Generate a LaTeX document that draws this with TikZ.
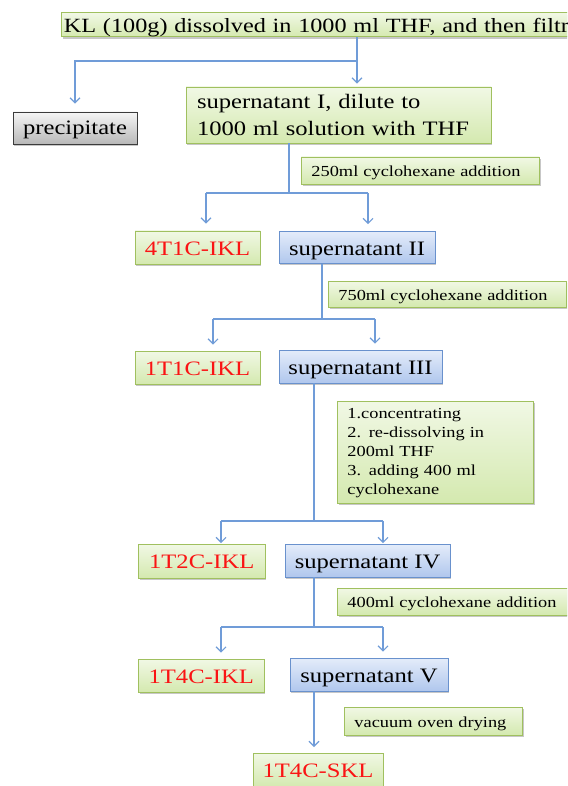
\documentclass[tikz,border=0pt]{standalone}
\usepackage{fontspec}
\setmainfont{Liberation Serif}[FakeStretch=1.2]
\usetikzlibrary{arrows.meta,shadows,calc}
\definecolor{gtop}{RGB}{241,248,229}
\definecolor{gbot}{RGB}{212,233,175}
\definecolor{gline}{RGB}{160,192,95}
\definecolor{btop}{RGB}{228,236,250}
\definecolor{bbot}{RGB}{176,199,237}
\definecolor{bline}{RGB}{105,145,205}
\definecolor{ktop}{RGB}{246,246,246}
\definecolor{kbot}{RGB}{184,184,184}
\definecolor{kline}{RGB}{60,60,60}
\definecolor{arrc}{RGB}{112,156,216}
\definecolor{redt}{RGB}{250,20,20}
\tikzset{
  boxbase/.style={rectangle, line width=0.9pt, inner ysep=0pt,
    drop shadow={shadow xshift=1.2pt, shadow yshift=-1.6pt, fill=black, opacity=0.22}},
  gbox/.style={boxbase, draw=gline, top color=gtop, bottom color=gbot},
  bbox/.style={boxbase, draw=bline, top color=btop, bottom color=bbot},
  kbox/.style={boxbase, draw=kline, top color=ktop, bottom color=kbot},
  big/.style={font=\fontsize{20.5}{27}\selectfont},
  oneline/.style={text height=15pt, text depth=0pt},
  small/.style={font=\fontsize{15.3}{19}\selectfont},
  redlab/.style={gbox, big, oneline, text=redt},
  note/.style={gbox, small, align=left, anchor=west, inner xsep=10pt},
  smallone/.style={text height=12pt, text depth=0pt},
  conn/.style={draw=arrc, line width=1.3pt},
  arr/.style={conn, -{Straight Barb[length=5pt,width=10pt,line width=1.1pt]}}
}
\begin{document}
\begin{tikzpicture}[x=1pt,y=-1pt]
\useasboundingbox (0,0) rectangle (567,786);
\clip (0,0) rectangle (567,786);
\fill[white] (0,0) rectangle (567,786);

% nodes
\node[gbox, font=\fontsize{20.2}{24}\selectfont, text height=15.5pt, text depth=0pt, anchor=north west, minimum height=24pt, text width=700pt, align=left, inner xsep=2.5pt] (top) at (61,12.5) {KL (100g) dissolved in 1000 ml THF, and then filtration};
\node[kbox, big, text height=14pt, text depth=0pt, minimum width=124pt, minimum height=32pt] (prec) at (75,128) {precipitate};
\node[gbox, big, minimum width=305pt, minimum height=56pt, text width=283pt, align=left, inner xsep=11pt] (sup1) at (338.5,115) {supernatant I, dilute to\\1000 ml solution with THF};
\node[note, smallone, minimum height=27pt, text width=218pt] (a250) at (301,170.5) {250ml cyclohexane addition};
\node[redlab, minimum width=125pt, minimum height=33pt] (k4t1) at (197.5,247.5) {4T1C-IKL};
\node[bbox, big, oneline, minimum width=156pt, minimum height=32pt] (s2) at (357,247.5) {supernatant II};
\node[note, smallone, minimum height=26pt, text width=218pt] (a750) at (328,294) {750ml cyclohexane addition};
\node[redlab, minimum width=125pt, minimum height=33pt] (k1t1) at (197.5,367.5) {1T1C-IKL};
\node[bbox, big, oneline, minimum width=163pt, minimum height=33pt] (s3) at (360.5,366.5) {supernatant III};
\node[note, minimum height=102pt, text width=176pt, text height=12pt] (multi) at (337,452) {1.concentrating\\2. re-dissolving in\\200ml THF\\3. adding 400 ml\\cyclohexane};
\node[redlab, minimum width=126.5pt, minimum height=34pt] (k1t2) at (201.75,561) {1T2C-IKL};
\node[bbox, big, oneline, minimum width=165pt, minimum height=33pt] (s4) at (367.5,560.5) {supernatant IV};
\node[note, smallone, minimum height=27pt, text width=216pt] (a400) at (337,601.5) {400ml cyclohexane addition};
\node[redlab, minimum width=125.5pt, minimum height=33pt] (k1t4) at (201.25,675.5) {1T4C-IKL};
\node[bbox, big, oneline, minimum width=158pt, minimum height=33pt] (s5) at (369,674.5) {supernatant V};
\node[note, smallone, minimum height=28pt, text width=158pt] (vac) at (344,721) {vacuum oven drying};
\node[redlab, minimum width=130pt, minimum height=34pt] (skl) at (318,770) {1T4C-SKL};

% junction coordinates
\coordinate (j1) at (357,61);
\coordinate (c2) at (289,193); \coordinate (l2) at (206,193); \coordinate (r2) at (368,193);
\coordinate (c3) at (322,319); \coordinate (l3) at (213,319); \coordinate (r3) at (375,319);
\coordinate (c4) at (314,521); \coordinate (l4) at (221,521); \coordinate (r4) at (383,521);
\coordinate (c5) at (314,627); \coordinate (l5) at (221,627); \coordinate (r5) at (383,627);
\coordinate (c6) at (314,747);

% connectors
\draw[arr, shorten >=3pt] (top.south -| j1) -- (j1 |- sup1.north);
\draw[arr, shorten >=8pt] (j1) -| (prec.north);

\draw[conn] (sup1.south -| c2) -- (c2);
\draw[conn] (l2) -- (r2);
\draw[arr, shorten >=7pt] (l2) -- (l2 |- k4t1.north);
\draw[arr, shorten >=7pt] (r2) -- (r2 |- s2.north);

\draw[conn] (s2.south -| c3) -- (c3);
\draw[conn] (l3) -- (r3);
\draw[arr, shorten >=6pt] (l3) -- (l3 |- k1t1.north);
\draw[arr, shorten >=6pt] (r3) -- (r3 |- s3.north);

\draw[conn] (s3.south -| c4) -- (c4);
\draw[conn] (l4) -- (r4);
\draw[arr, shorten >=0.5pt] (l4) -- (l4 |- k1t2.north);
\draw[arr, shorten >=0.5pt] (r4) -- (r4 |- s4.north);

\draw[conn] (s4.south -| c5) -- (c5);
\draw[conn] (l5) -- (r5);
\draw[arr, shorten >=6pt] (l5) -- (l5 |- k1t4.north);
\draw[arr, shorten >=6pt] (r5) -- (r5 |- s5.north);

\draw[arr] (s5.south -| c6) -- (c6);
\end{tikzpicture}
\end{document}
